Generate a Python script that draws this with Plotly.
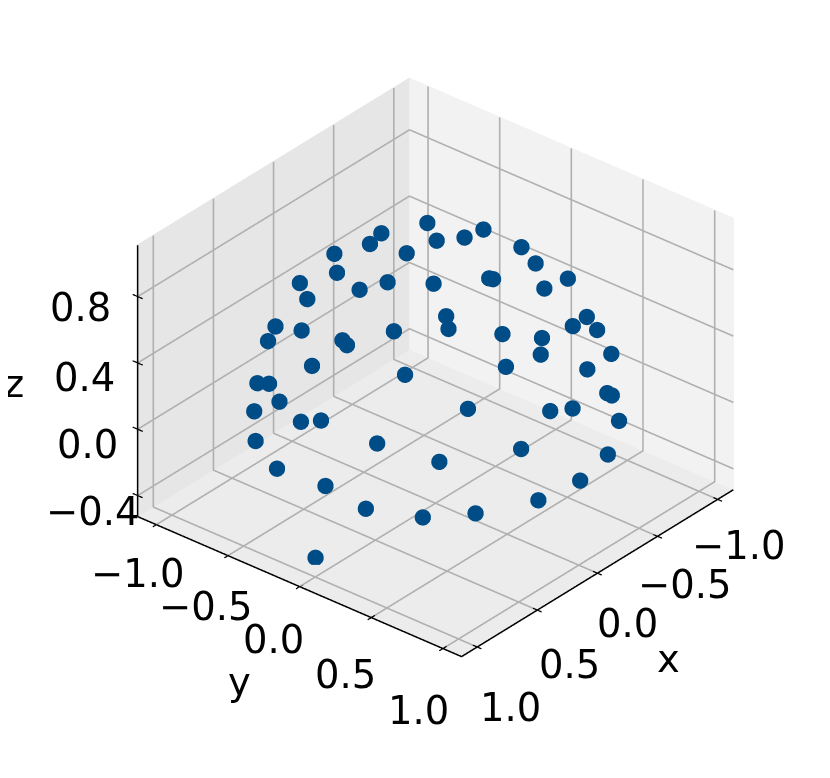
import math
import plotly.graph_objects as go

# values
x = [-0.36,-0.54,-0.24,-0.08,-0.12,0.07,0.02,0.11,-0.57,-0.45,-0.73,-0.32,0.32,0.20,0.46,0.43,0.34,0.22,-0.04,-0.06,0.33,0.37,0.51,0.65,0.56,0.55,0.68,0.69,0.16,-0.05,-0.33,-0.53,-0.58,0.02,-0.65,0.79,0.25,-0.26,0.66,0.72,0.79,-0.39,-0.44,0.87,0.77,0.53,0.12,-0.03,-0.50,0.93,0.93,0.83,0.88,0.35,-0.30,0.72,0.95,-0.01,1.00,0.29,0.95,0.81,0.61,0.88]
y = [-0.36,-0.12,0.00,-0.06,-0.48,-0.40,-0.69,-0.11,0.12,0.32,0.31,0.49,-0.42,-0.78,-0.51,-0.17,-0.05,0.17,0.34,0.35,0.35,0.40,-0.69,-0.39,-0.70,0.17,-0.08,-0.04,0.60,0.70,0.68,0.61,0.64,0.75,0.68,-0.20,0.70,0.84,0.34,-0.64,-0.50,0.87,0.86,-0.36,-0.62,0.67,0.90,0.93,0.86,-0.16,-0.02,-0.56,0.33,0.89,0.95,0.63,-0.31,1.00,0.07,0.96,0.31,0.59,0.79,-0.10]
z = [0.87,0.84,0.97,1.00,0.87,0.92,0.73,0.99,0.81,0.84,0.62,0.81,0.85,0.60,0.72,0.89,0.94,0.96,0.94,0.93,0.88,0.84,0.51,0.66,0.44,0.82,0.73,0.72,0.79,0.71,0.65,0.59,0.50,0.66,0.34,0.58,0.67,0.48,0.67,0.28,0.36,0.29,0.25,0.34,0.14,0.53,0.42,0.38,0.07,0.32,0.38,0.01,0.35,0.29,-0.01,0.28,-0.01,-0.02,0.05,-0.02,-0.02,-0.03,-0.02,-0.50]

xy_ticks = [-1.0, -0.5, 0.0, 0.5, 1.0]
z_ticks = [-0.4, 0.0, 0.4, 0.8]
xy_lim = 1.13
z_lim = [-0.527, 1.11]
pad = 0.1
zoom = 1.176

elev = math.radians(31)
azim = math.radians(40)
r = 2.0
eye = dict(x=r*math.cos(elev)*math.cos(azim), y=r*math.cos(elev)*math.sin(azim), z=r*math.sin(elev))

font = dict(family='DejaVu Sans', size=38.5, color='black')

def label(txt, px, py, pz, sx, sy):
    return dict(x=px, y=py, z=pz, text=txt, showarrow=False, font=font,
                xanchor='center', yanchor='middle', xshift=sx, yshift=-sy)

def fmt(v):
    return f'{v:.1f}'.replace('-', '\u2212')

lo, hi = -xy_lim, xy_lim
zlo, zhi = z_lim

# label offsets in pixels, the reference is in perspective so they differ per tick
x_off = [(21, 46), (27, 48), (30, 50), (32, 54), (33, 60)]
y_off = [(-18, 49), (-22, 51), (-26, 53), (-26, 57), (-24, 62)]
z_off = [(-45, 16), (-50, 15), (-53, 14), (-57, 11)]

notes = []
for t, o in zip(xy_ticks, x_off):
    notes.append(label(fmt(t), t, hi, zlo, *o))
for t, o in zip(xy_ticks, y_off):
    notes.append(label(fmt(t), hi, t, zlo, *o))
for t, o in zip(z_ticks, z_off):
    notes.append(label(fmt(t), hi, lo, t, *o))
notes.append(label('x', 0, hi, zlo, 71, 85))
notes.append(label('y', hi, 0, zlo, -60, 95))
notes.append(label('z', hi, lo, 0.4, -124, 20))

def axis(rng):
    return dict(range=rng, visible=False, showbackground=False, showspikes=False)

fig = go.Figure()

def pane(px, py, pz, col):
    fig.add_trace(go.Mesh3d(x=px, y=py, z=pz, i=[0, 0], j=[1, 2], k=[2, 3], color=col, opacity=1,
                            flatshading=True, hoverinfo='skip', showscale=False,
                            lighting=dict(ambient=1, diffuse=0, specular=0, roughness=1, fresnel=0)))

def line(px, py, pz, col, w):
    fig.add_trace(go.Scatter3d(x=px, y=py, z=pz, mode='lines', line=dict(color=col, width=w),
                               hoverinfo='skip', showlegend=False))

eps = 0.006
pane([lo-eps]*4, [lo-eps, hi, hi, lo-eps], [zlo-eps, zlo-eps, zhi, zhi], '#f2f2f2')
pane([lo-eps, hi, hi, lo-eps], [lo-eps]*4, [zlo-eps, zlo-eps, zhi, zhi], '#e6e6e6')
pane([lo-eps, hi, hi, lo-eps], [lo-eps, lo-eps, hi, hi], [zlo-eps]*4, '#ececec')

grey = '#b0b0b0'
for t in xy_ticks:
    line([t, t, t], [hi, lo, lo], [zlo, zlo, zhi], grey, 3.2)
    line([hi, lo, lo], [t, t, t], [zlo, zlo, zhi], grey, 3.2)
for t in z_ticks:
    line([hi, lo, lo], [lo, lo, hi], [t, t, t], grey, 3.2)

# axis edges and tick marks
line([lo, hi, hi], [hi, hi, lo], [zlo, zlo, zlo], 'black', 3)
line([hi, hi], [lo, lo], [zlo, zhi], 'black', 3)
for t in xy_ticks:
    line([t, t], [hi-0.03, hi+0.03], [zlo, zlo], 'black', 2.5)
    line([hi-0.03, hi+0.03], [t, t], [zlo, zlo], 'black', 2.5)
for t in z_ticks:
    line([hi, hi], [lo-0.035, lo+0.035], [t, t], 'black', 2.5)

fig.add_trace(go.Scatter3d(x=x, y=y, z=z, mode='markers',
                           marker=dict(size=9.5, color='#004c87', line=dict(width=0), opacity=1),
                           showlegend=False))
fig.update_layout(
    width=830, height=778,
    margin=dict(l=0, r=0, t=0, b=0),
    paper_bgcolor='white',
    scene=dict(
        domain=dict(x=[0.03, 1.0], y=[0.0754, 1.0]),
        xaxis=axis([lo-pad, hi+pad]),
        yaxis=axis([lo-pad, hi+pad]),
        zaxis=axis([zlo-pad, zhi+pad]),
        aspectmode='manual',
        aspectratio=dict(x=zoom*(hi+pad)/hi, y=zoom*(hi+pad)/hi,
                         z=zoom*0.749*(zhi-zlo+2*pad)/(zhi-zlo)),
        camera=dict(eye=eye, up=dict(x=0, y=0, z=1), center=dict(x=0, y=0, z=0),
                    projection=dict(type='orthographic')),
        annotations=notes,
    ),
)

fig.write_html("out.html")
